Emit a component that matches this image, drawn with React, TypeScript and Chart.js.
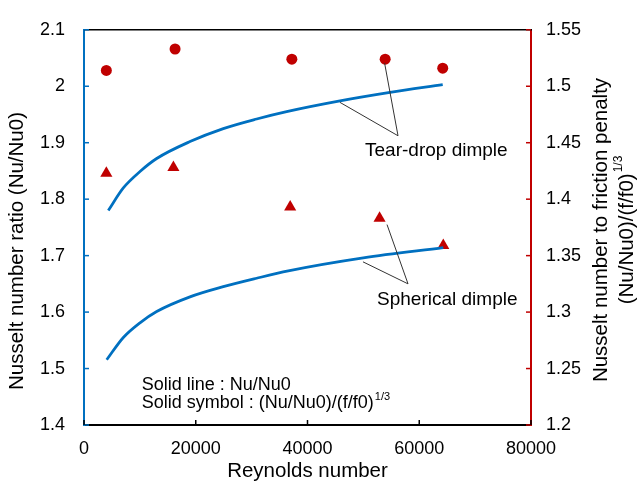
import React, { useEffect, useRef } from 'react';
import { Chart, registerables } from 'chart.js';

Chart.register(...registerables);

const FONT = '"Liberation Sans", Arial, Helvetica, sans-serif';
const BLUE = '#0070C0';
const RED = '#C00000';

// Solid lines: Nu/Nu0 (left axis)
const teardropLineRe = [4350, 7040, 10020, 13010, 18970, 24930, 30900, 36270, 45820, 54770, 64200];
const teardropLineNu = [1.78, 1.82, 1.849, 1.872, 1.902, 1.925, 1.942, 1.955, 1.974, 1.989, 2.003];
const sphericalLineRe = [4060, 7040, 10020, 13010, 18970, 24930, 30900, 36570, 49990, 64300];
const sphericalLineNu = [1.5155, 1.555, 1.581, 1.601, 1.627, 1.645, 1.66, 1.673, 1.696, 1.714];

// Solid symbols: (Nu/Nu0)/(f/f0)^1/3 (right axis)
const teardropSymRe = [4000, 16300, 37200, 53900, 64200];
const teardropSymVal = [1.514, 1.533, 1.524, 1.524, 1.516];
const sphericalSymRe = [4000, 16000, 36900, 52900, 64300];
const sphericalSymVal = [1.423, 1.428, 1.393, 1.383, 1.359];

// Axis tick labels
const xTickLabels = ['0', '20000', '40000', '60000', '80000'];
const yLeftTickLabels = ['1.4', '1.5', '1.6', '1.7', '1.8', '1.9', '2', '2.1'];
const yRightTickLabels = ['1.2', '1.25', '1.3', '1.35', '1.4', '1.45', '1.5', '1.55'];

// Annotation anchors in data coordinates (Re, left-axis value)
const teardropLabel = { re: 50300, v: 1.8768, text: 'Tear-drop dimple' };
const teardropLeaders = [
  [56200, 1.9123, 45800, 1.9715],
  [56200, 1.9123, 53800, 2.041],
];
const sphericalLabel = { re: 52450, v: 1.613, text: 'Spherical dimple' };
const sphericalLeaders = [
  [57990, 1.65, 49930, 1.689],
  [57990, 1.65, 54230, 1.755],
];

const zip = (xs: number[], ys: number[]) => xs.map((x, i) => ({ x, y: ys[i] }));

const overlay = {
  id: 'overlay',
  afterDraw(chart: any) {
    const { ctx, chartArea: ca, scales } = chart;
    const sx = scales.x, sy = scales.y, sy1 = scales.y1;
    ctx.save();
    const line = (x1: number, y1: number, x2: number, y2: number) => {
      ctx.beginPath();
      ctx.moveTo(x1, y1);
      ctx.lineTo(x2, y2);
      ctx.stroke();
    };
    // top border
    ctx.strokeStyle = '#000';
    ctx.lineWidth = 1.5;
    line(ca.left, ca.top, ca.right + 1, ca.top);
    // inward ticks
    ctx.lineWidth = 1.5;
    ctx.strokeStyle = BLUE;
    sy.ticks.forEach((t: any) => {
      const p = sy.getPixelForValue(t.value);
      line(ca.left, p, ca.left + 5, p);
    });
    ctx.strokeStyle = RED;
    sy1.ticks.forEach((t: any) => {
      const p = sy1.getPixelForValue(t.value);
      line(ca.right - 5, p, ca.right, p);
    });
    ctx.strokeStyle = '#000';
    sx.ticks.forEach((t: any) => {
      const p = sx.getPixelForValue(t.value);
      line(p, ca.bottom, p, ca.bottom - 5);
    });
    // leader lines
    ctx.strokeStyle = '#333';
    ctx.lineWidth = 1;
    [...teardropLeaders, ...sphericalLeaders].forEach(([a, b, c, d]) => {
      line(sx.getPixelForValue(a), sy.getPixelForValue(b), sx.getPixelForValue(c), sy.getPixelForValue(d));
    });
    // labels
    ctx.fillStyle = '#000';
    ctx.textBaseline = 'alphabetic';
    ctx.textAlign = 'left';
    ctx.font = `19px ${FONT}`;
    [teardropLabel, sphericalLabel].forEach((l) => {
      ctx.fillText(l.text, sx.getPixelForValue(l.re), sy.getPixelForValue(l.v));
    });
    // note text
    ctx.font = `18px ${FONT}`;
    const nx = sx.getPixelForValue(10330);
    ctx.fillText('Solid line : Nu/Nu0', nx, sy.getPixelForValue(1.4626));
    const by = sy.getPixelForValue(1.4304);
    const base = 'Solid symbol : (Nu/Nu0)/(f/f0)';
    ctx.fillText(base, nx, by);
    const bw = ctx.measureText(base).width;
    ctx.font = `11px ${FONT}`;
    ctx.fillText('1/3', nx + bw + 1, by - 8);

    // axis titles
    ctx.font = `20.5px ${FONT}`;
    ctx.textAlign = 'center';
    ctx.textBaseline = 'middle';
    ctx.fillText('Reynolds number', (ca.left + ca.right) / 2, 471);

    ctx.save();
    ctx.translate(17, 251);
    ctx.rotate(-Math.PI / 2);
    ctx.fillText('Nusselt number ratio (Nu/Nu0)', 0, 0);
    ctx.restore();

    ctx.save();
    ctx.translate(601, 230);
    ctx.rotate(-Math.PI / 2);
    ctx.fillText('Nusselt number to friction penalty', 0, 0);
    ctx.restore();

    ctx.save();
    ctx.translate(627, 230);
    ctx.rotate(-Math.PI / 2);
    const t2 = '(Nu/Nu0)/(f/f0)';
    const w2 = ctx.measureText(t2).width;
    ctx.font = `12px ${FONT}`;
    const w3 = ctx.measureText('1/3').width;
    const start = -(w2 + 1 + w3) / 2;
    ctx.textAlign = 'left';
    ctx.font = `20.5px ${FONT}`;
    ctx.fillText(t2, start, 0);
    ctx.font = `12px ${FONT}`;
    ctx.fillText('1/3', start + w2 + 1, -8);
    ctx.restore();

    ctx.restore();
  },
};

export default function App() {
  const ref = useRef<HTMLCanvasElement | null>(null);
  useEffect(() => {
    document.body.style.margin = '0';
    if (!ref.current) return;
    const tickFont = { family: FONT, size: 18 };
    const chart = new Chart(ref.current, {
      type: 'scatter',
      data: {
        datasets: [
          {
            type: 'line',
            label: 'Tear-drop Nu/Nu0',
            data: zip(teardropLineRe, teardropLineNu),
            borderColor: BLUE,
            borderWidth: 2.75,
            pointRadius: 0,
            fill: false,
            cubicInterpolationMode: 'monotone',
            yAxisID: 'y',
          } as any,
          {
            type: 'line',
            label: 'Spherical Nu/Nu0',
            data: zip(sphericalLineRe, sphericalLineNu),
            borderColor: BLUE,
            borderWidth: 2.75,
            pointRadius: 0,
            fill: false,
            cubicInterpolationMode: 'monotone',
            yAxisID: 'y',
          } as any,
          {
            label: 'Tear-drop penalty',
            data: zip(teardropSymRe, teardropSymVal),
            pointStyle: 'circle',
            pointRadius: 5.5,
            backgroundColor: RED,
            borderColor: RED,
            borderWidth: 0,
            yAxisID: 'y1',
          },
          {
            label: 'Spherical penalty',
            data: zip(sphericalSymRe, sphericalSymVal),
            pointStyle: 'triangle',
            pointRadius: 7,
            backgroundColor: RED,
            borderColor: RED,
            borderWidth: 0,
            yAxisID: 'y1',
          },
        ],
      },
      options: {
        animation: false,
        responsive: false,
        layout: { padding: { top: 11, left: 0, right: 0, bottom: 0 } },
        plugins: { legend: { display: false }, tooltip: { enabled: false } },
        scales: {
          x: {
            type: 'linear',
            position: 'bottom',
            min: 0,
            max: 80000,
            ticks: {
              stepSize: 20000,
              font: tickFont,
              color: '#000',
              padding: 13,
              maxRotation: 0,
              callback: (_v: any, i: number) => xTickLabels[i],
            },
            grid: { display: true, drawOnChartArea: false, drawTicks: false },
            border: { display: true, color: '#000', width: 2 },
            afterFit: (s: any) => { s.height = 62; },
          },
          y: {
            type: 'linear',
            position: 'left',
            min: 1.4,
            max: 2.1,
            ticks: {
              stepSize: 0.1,
              font: tickFont,
              color: '#000',
              padding: 19,
              callback: (_v: any, i: number) => yLeftTickLabels[i],
            },
            grid: { display: true, drawOnChartArea: false, drawTicks: false },
            border: { display: true, color: BLUE, width: 2 },
            afterFit: (s: any) => { s.width = 84; },
          },
          y1: {
            type: 'linear',
            position: 'right',
            min: 1.2,
            max: 1.55,
            ticks: {
              stepSize: 0.05,
              font: tickFont,
              color: '#000',
              padding: 15,
              callback: (_v: any, i: number) => yRightTickLabels[i],
            },
            grid: { display: true, drawOnChartArea: false, drawTicks: false },
            border: { display: true, color: RED, width: 2 },
            afterFit: (s: any) => { s.width = 109; },
          },
        },
      } as any,
      plugins: [overlay],
    });
    return () => chart.destroy();
  }, []);
  return (
    <div style={{ position: 'absolute', left: 0, top: 0, width: 640, height: 487, background: '#fff' }}>
      <canvas ref={ref} width={640} height={487} style={{ display: 'block', width: 640, height: 487 }} />
    </div>
  );
}
